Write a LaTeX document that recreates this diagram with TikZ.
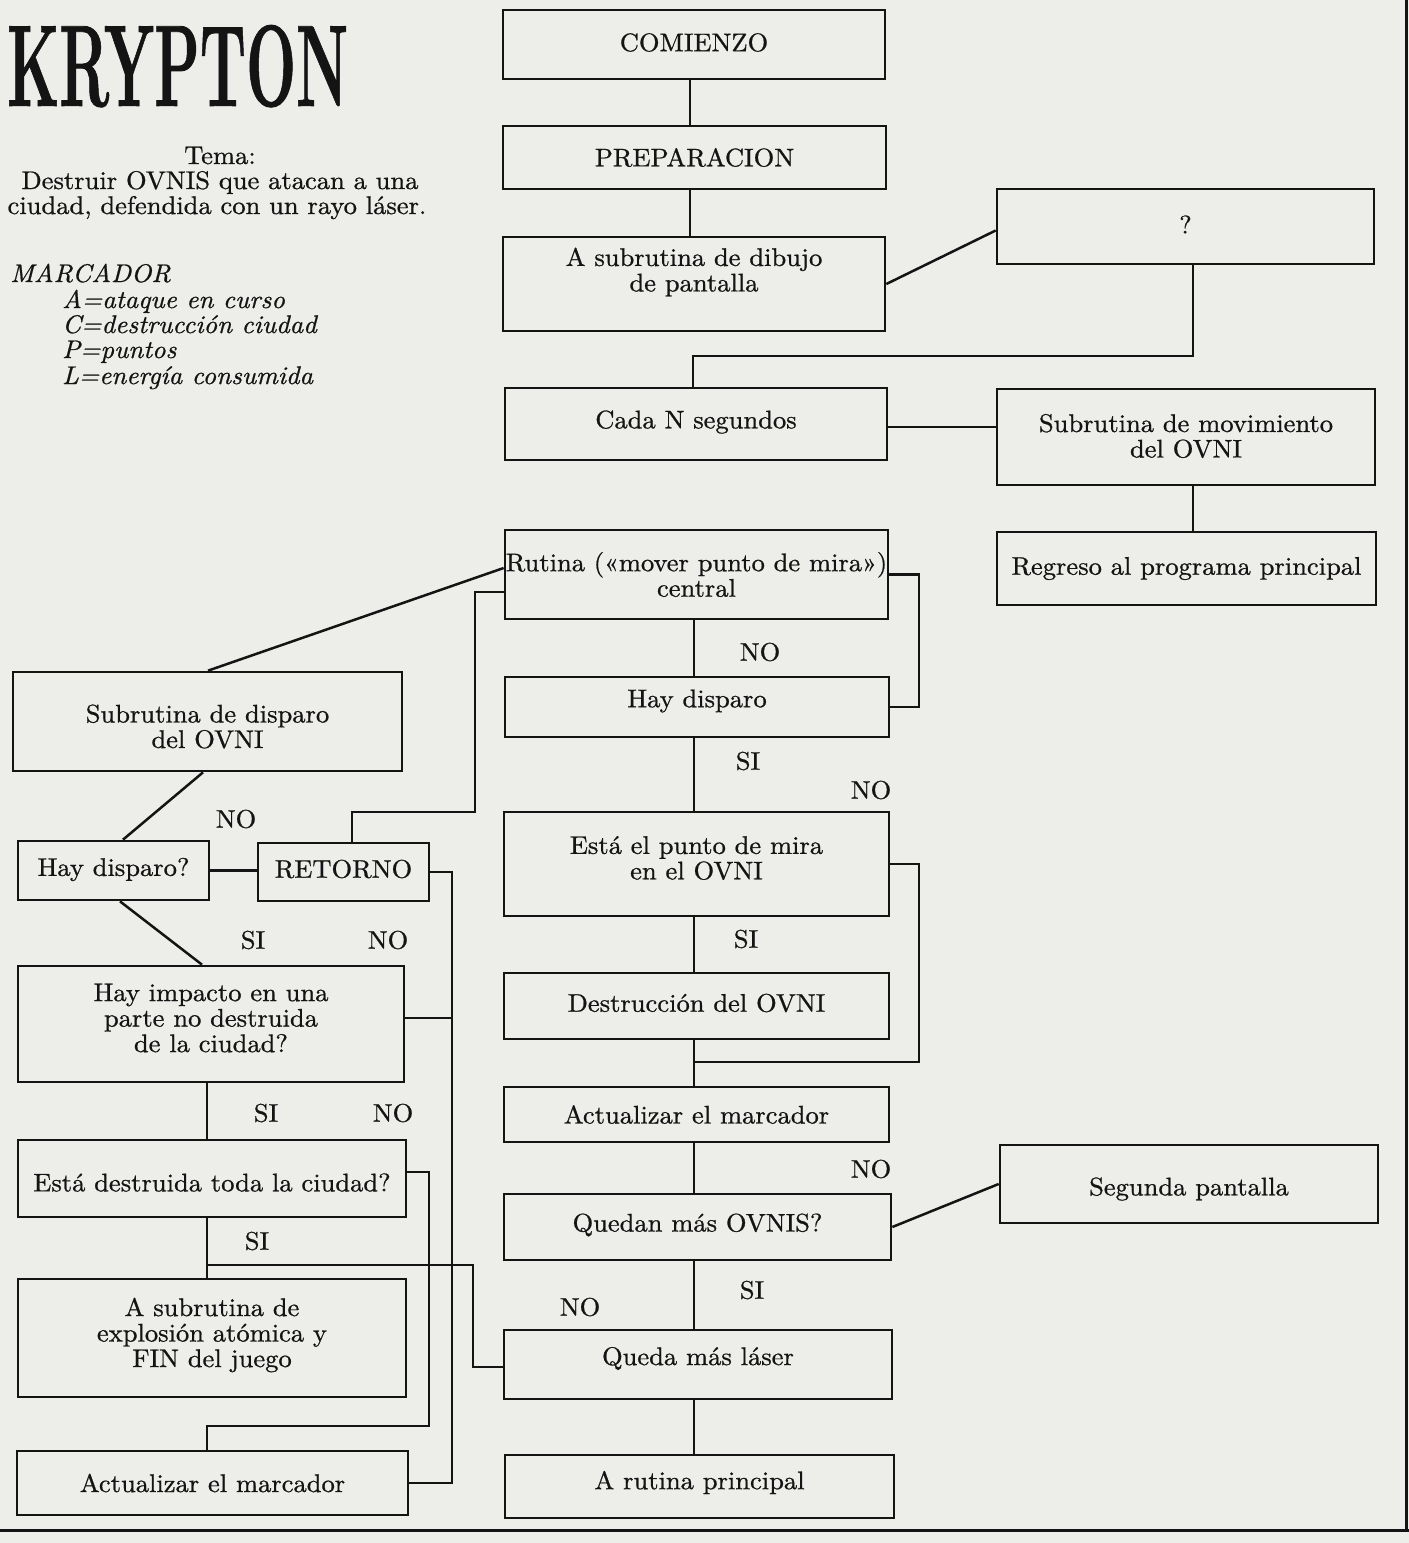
\documentclass[tikz,border=0pt]{standalone}
\usepackage{graphicx}
\usepackage{fontspec}
\setmainfont{lmroman10-regular.otf}[
  ItalicFont=lmroman10-italic.otf,
  BoldFont=lmroman10-bold.otf,
  FakeStretch=1.04,
  FakeBold=0.8]
\usetikzlibrary{calc}
\definecolor{paper}{RGB}{237,237,234}
\definecolor{ink}{RGB}{20,20,20}
\tikzset{
  flow/.style={draw=ink, line width=2.7pt, rectangle, inner sep=0pt},
  txt/.style={align=center, inner sep=0pt, text=ink, font=\fontsize{25.5}{25.5}\selectfont},
  lab/.style={inner sep=0pt, text=ink, font=\fontsize{25.5}{25.5}\selectfont},
  side/.style={inner sep=0pt, text=ink, anchor=base west, font=\fontsize{25.5}{25.5}\selectfont\itshape},
  conn/.style={draw=ink, line width=2.5pt},
  frame/.style={draw=ink, line width=3pt},
}
% name x1 y1 x2 y2 dy text
\newcommand\flowbox[7]{%
  \node[flow, minimum width={#4-#2}, minimum height={#5-#3}] (#1) at ({(#2+#4)/2},{(#3+#5)/2}) {};
  \node[txt] (#1t) at ($(#1.center)+(0,#6)$) {#7};
}
\begin{document}
\begin{tikzpicture}[x=1pt,y=-1pt]
\fill[paper] (0,0) rectangle (1409,1543);
\useasboundingbox (0,0) rectangle (1409,1543);

% page frame
\draw[frame] (0,1530) -- (1409,1530);
\draw[frame] (1406,0) -- (1406,1530);

% title and legend
\node[inner sep=0pt, anchor=base west, text=ink] (title) at (7,106) {\resizebox{341pt}{81pt}{\bfseries KRYPTON}};
\node[txt, anchor=base] (tema) at (220,164) {Tema:};
\node[txt, anchor=base] (tema2) at (220,189) {Destruir OVNIS que atacan a una};
\node[txt, anchor=base] (tema3) at (217,214) {ciudad, defendida con un rayo láser.};
\node[side] (marc) at (10,282) {MARCADOR};
\node[side] (m1) at (62,308) {A=ataque en curso};
\node[side] (m2) at (62,333) {C=destrucción ciudad};
\node[side] (m3) at (62,358) {P=puntos};
\node[side] (m4) at (62,384) {L=energía consumida};

% central column
\flowbox{com}{503}{10}{885}{79}{-2}{COMIENZO}
\flowbox{prep}{503}{126}{886}{189}{0}{PREPARACION}
\flowbox{dib}{503}{237}{885}{331}{-12}{A subrutina de dibujo\\de pantalla}
\flowbox{cada}{505}{388}{887}{460}{-2}{Cada N segundos}
\flowbox{rut}{505}{530}{888}{619}{0}{Rutina («mover punto de mira»)\\central}
\flowbox{hay}{505}{677}{889}{737}{-6}{Hay disparo}
\flowbox{esta}{504}{812}{889}{916}{-6}{Está el punto de mira\\en el OVNI}
\flowbox{dest}{504}{973}{889}{1039}{-3}{Destrucción del OVNI}
\flowbox{act}{504}{1087}{889}{1142}{0}{Actualizar el marcador}
\flowbox{qov}{504}{1194}{891}{1260}{-2}{Quedan más OVNIS?}
\flowbox{qlas}{504}{1330}{892}{1399}{-6}{Queda más láser}
\flowbox{arp}{505}{1455}{894}{1518}{-4}{A rutina principal}

% right column
\flowbox{q}{997}{189}{1374}{264}{-2}{?}
\flowbox{mov}{997}{389}{1375}{485}{-1}{Subrutina de movimiento\\del OVNI}
\flowbox{reg}{997}{532}{1376}{605}{0}{Regreso al programa principal}
\flowbox{seg}{1000}{1145}{1378}{1223}{5}{Segunda pantalla}

% left column
\flowbox{sdis}{13}{672}{402}{771}{5}{Subrutina de disparo\\del OVNI}
\flowbox{hd}{18}{841}{209}{900}{-1}{Hay disparo?}
\flowbox{ret}{258}{843}{429}{901}{-3}{RETORNO}
\flowbox{imp}{18}{966}{404}{1082}{-6}{Hay impacto en una\\parte no destruida\\de la ciudad?}
\flowbox{edt}{18}{1140}{406}{1217}{4}{Está destruida toda la ciudad?}
\flowbox{exp}{18}{1279}{406}{1397}{-3}{A subrutina de\\explosión atómica y\\FIN del juego}
\flowbox{act2}{17}{1451}{408}{1515}{0}{Actualizar el marcador}

% helper coordinates
\coordinate (sp1) at (690,0);
\coordinate (sp) at (694,0);
\coordinate (rsp) at (1193,0);
\coordinate (j1) at (693,356);
\coordinate (j1b) at (1193,356);
\coordinate (c1) at (0,427);
\coordinate (rA) at (0,568);
\coordinate (rB) at (0,592);
\coordinate (a3) at (208,0);
\coordinate (k1) at (475,812);
\coordinate (k1r) at (352,0);
\coordinate (kx) at (919,0);
\coordinate (j2) at (694,1062);
\coordinate (q3) at (0,1367);
\coordinate (k3) at (473,0);
\coordinate (j3) at (207,1265);
\coordinate (lsp) at (207,0);
\coordinate (a1) at (203,0);
\coordinate (a2) at (123,0);
\coordinate (a4) at (120,0);
\coordinate (a5) at (202,0);
\coordinate (kk) at (452,0);
\coordinate (i1) at (0,1018);
\coordinate (e1) at (0,1172);
\coordinate (kr) at (429,0);
\coordinate (j4) at (0,1426);

% central connectors
\draw[conn] (com.south -| sp1) -- (prep.north -| sp1);
\draw[conn] (prep.south -| sp1) -- (dib.north -| sp1);
\draw[conn] (dib.east) -- ([yshift=-4pt]q.west);
\draw[conn] (q.south -| j1b) -- (j1b) -- (j1) -- (j1 |- cada.north);
\draw[conn] (cada.east |- c1) -- (mov.west |- c1);
\draw[conn] (mov.south -| rsp) -- (reg.north -| rsp);
\draw[conn] (rut.west |- rA) -- (sdis.north -| a3);
\draw[conn] (rut.west |- rB) -- (k1 |- rB) -- (k1) -- (k1 -| k1r) -- (ret.north -| k1r);
\draw[conn] (rut.south -| sp) -- (hay.north -| sp);
\draw[conn] (rut.east) -- (rut.east -| kx) -- (kx |- hay.east) -- (hay.east);
\draw[conn] (hay.south -| sp) -- (esta.north -| sp);
\draw[conn] (esta.east) -- (esta.east -| kx) -- (kx |- j2) -- (j2);
\draw[conn] (esta.south -| sp) -- (dest.north -| sp);
\draw[conn] (dest.south -| sp) -- (act.north -| sp);
\draw[conn] (act.south -| sp) -- (qov.north -| sp);
\draw[conn] (qov.east) -- (seg.west);
\draw[conn] (qov.south -| sp) -- (qlas.north -| sp);
\draw[conn] (qlas.south -| sp) -- (arp.north -| sp);
\draw[conn] (qlas.west |- q3) -- (k3 |- q3) -- (k3 |- j3) -- (j3);

% left connectors
\draw[conn] (sdis.south -| a1) -- (hd.north -| a2);
\draw[conn] (hd.east) -- (hd.east -| ret.west);
\draw[conn] (hd.south -| a4) -- (imp.north -| a5);
\draw[conn] (ret.east) -- (ret.east -| kk) -- (kk |- act2.east) -- (act2.east);
\draw[conn] (imp.east |- i1) -- (kk |- i1);
\draw[conn] (imp.south -| lsp) -- (edt.north -| lsp);
\draw[conn] (edt.east |- e1) -- (kr |- e1) -- (kr |- j4) -- (lsp |- j4) -- (act2.north -| lsp);
\draw[conn] (edt.south -| lsp) -- (exp.north -| lsp);

% labels
\node[lab] (l1) at (760,652) {NO};
\node[lab] (l2) at (748,761) {SI};
\node[lab] (l3) at (871,790) {NO};
\node[lab] (l4) at (746,939) {SI};
\node[lab] (l5) at (871,1169) {NO};
\node[lab] (l6) at (752,1290) {SI};
\node[lab] (l7) at (580,1307) {NO};
\node[lab] (l8) at (236,819) {NO};
\node[lab] (l9) at (253,940) {SI};
\node[lab] (l10) at (388,940) {NO};
\node[lab] (l11) at (266,1113) {SI};
\node[lab] (l12) at (393,1113) {NO};
\node[lab] (l13) at (257,1241) {SI};
\end{tikzpicture}
\end{document}
